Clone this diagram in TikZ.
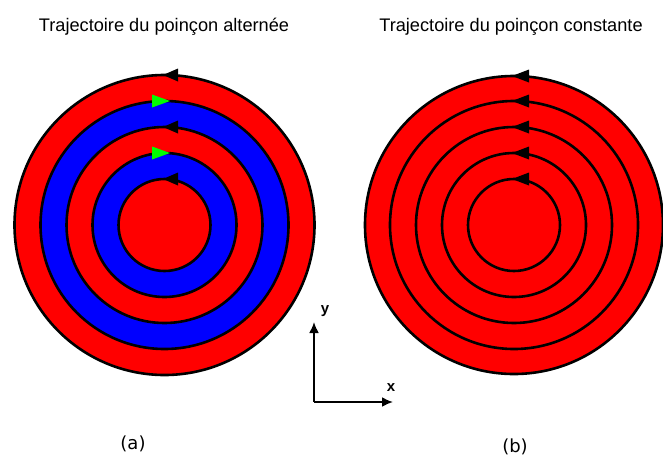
\documentclass[tikz,border=0pt]{standalone}
\usepackage{fontspec}
\setmainfont{Liberation Sans}
\newfontfamily\djv{DejaVu Sans}
\usetikzlibrary{calc,arrows.meta}
\begin{document}
\begin{tikzpicture}[x=1pt,y=-1pt,
  ring/.style={draw=black,line width=2.6pt},
  lefttip/.style={fill=black},
  righttip/.style={fill=green},
  title/.style={font=\fontsize{18.2}{21}\selectfont,anchor=base},
  sublabel/.style={font=\djv\fontsize{18}{21}\selectfont,anchor=base},
  axislab/.style={font=\bfseries\fontsize{15}{17}\selectfont}]
\useasboundingbox (0,0) rectangle (663,456);
% left disk
\coordinate (L) at (164.5,225);
\fill[red] (L) circle[radius=150];
\fill[blue] (L) circle[radius=124];
\fill[red] (L) circle[radius=98];
\fill[blue] (L) circle[radius=72];
\fill[red] (L) circle[radius=46];
\foreach \r in {150,124,98,72,46} \draw[ring] (L) circle[radius=\r];
\foreach \r in {150,98,46}
  \fill[lefttip] ($(L)+(-1.5,-\r)$) -- ++(15,-6.5) -- ++(0,13) -- cycle;
\foreach \r in {124,72}
  \fill[righttip] ($(L)+(5.5,-\r)$) -- ++(-18,-6.5) -- ++(0,13) -- cycle;
% right disk
\coordinate (R) at (514,225);
\fill[red] (R) circle[radius=149];
\foreach \r in {149,124,98,72,46} \draw[ring] (R) circle[radius=\r];
\foreach \r in {149,124,98,72,46}
  \fill[lefttip] ($(R)+(-2,-\r)$) -- ++(17,-6.5) -- ++(0,13) -- cycle;
% titles
\node[title] (t1) at (164,31) {Trajectoire du poinçon alternée};
\node[title] (t2) at (511,31) {Trajectoire du poinçon constante};
\node[sublabel] (ca) at (133,449) {(a)};
\node[sublabel] (cb) at (515,452) {(b)};
% axes
\coordinate (O) at (314,402);
\coordinate (Y) at (314,322);
\coordinate (X) at (393,402);
\draw[line width=2pt,-{Latex[length=11pt,width=10pt]}] (O) -- (Y);
\draw[line width=2pt,-{Latex[length=11pt,width=10pt]}] (O) -- (X);
\node[axislab] (ly) at (325,311) {y};
\node[axislab] (lx) at (391,388) {x};
\end{tikzpicture}
\end{document}
